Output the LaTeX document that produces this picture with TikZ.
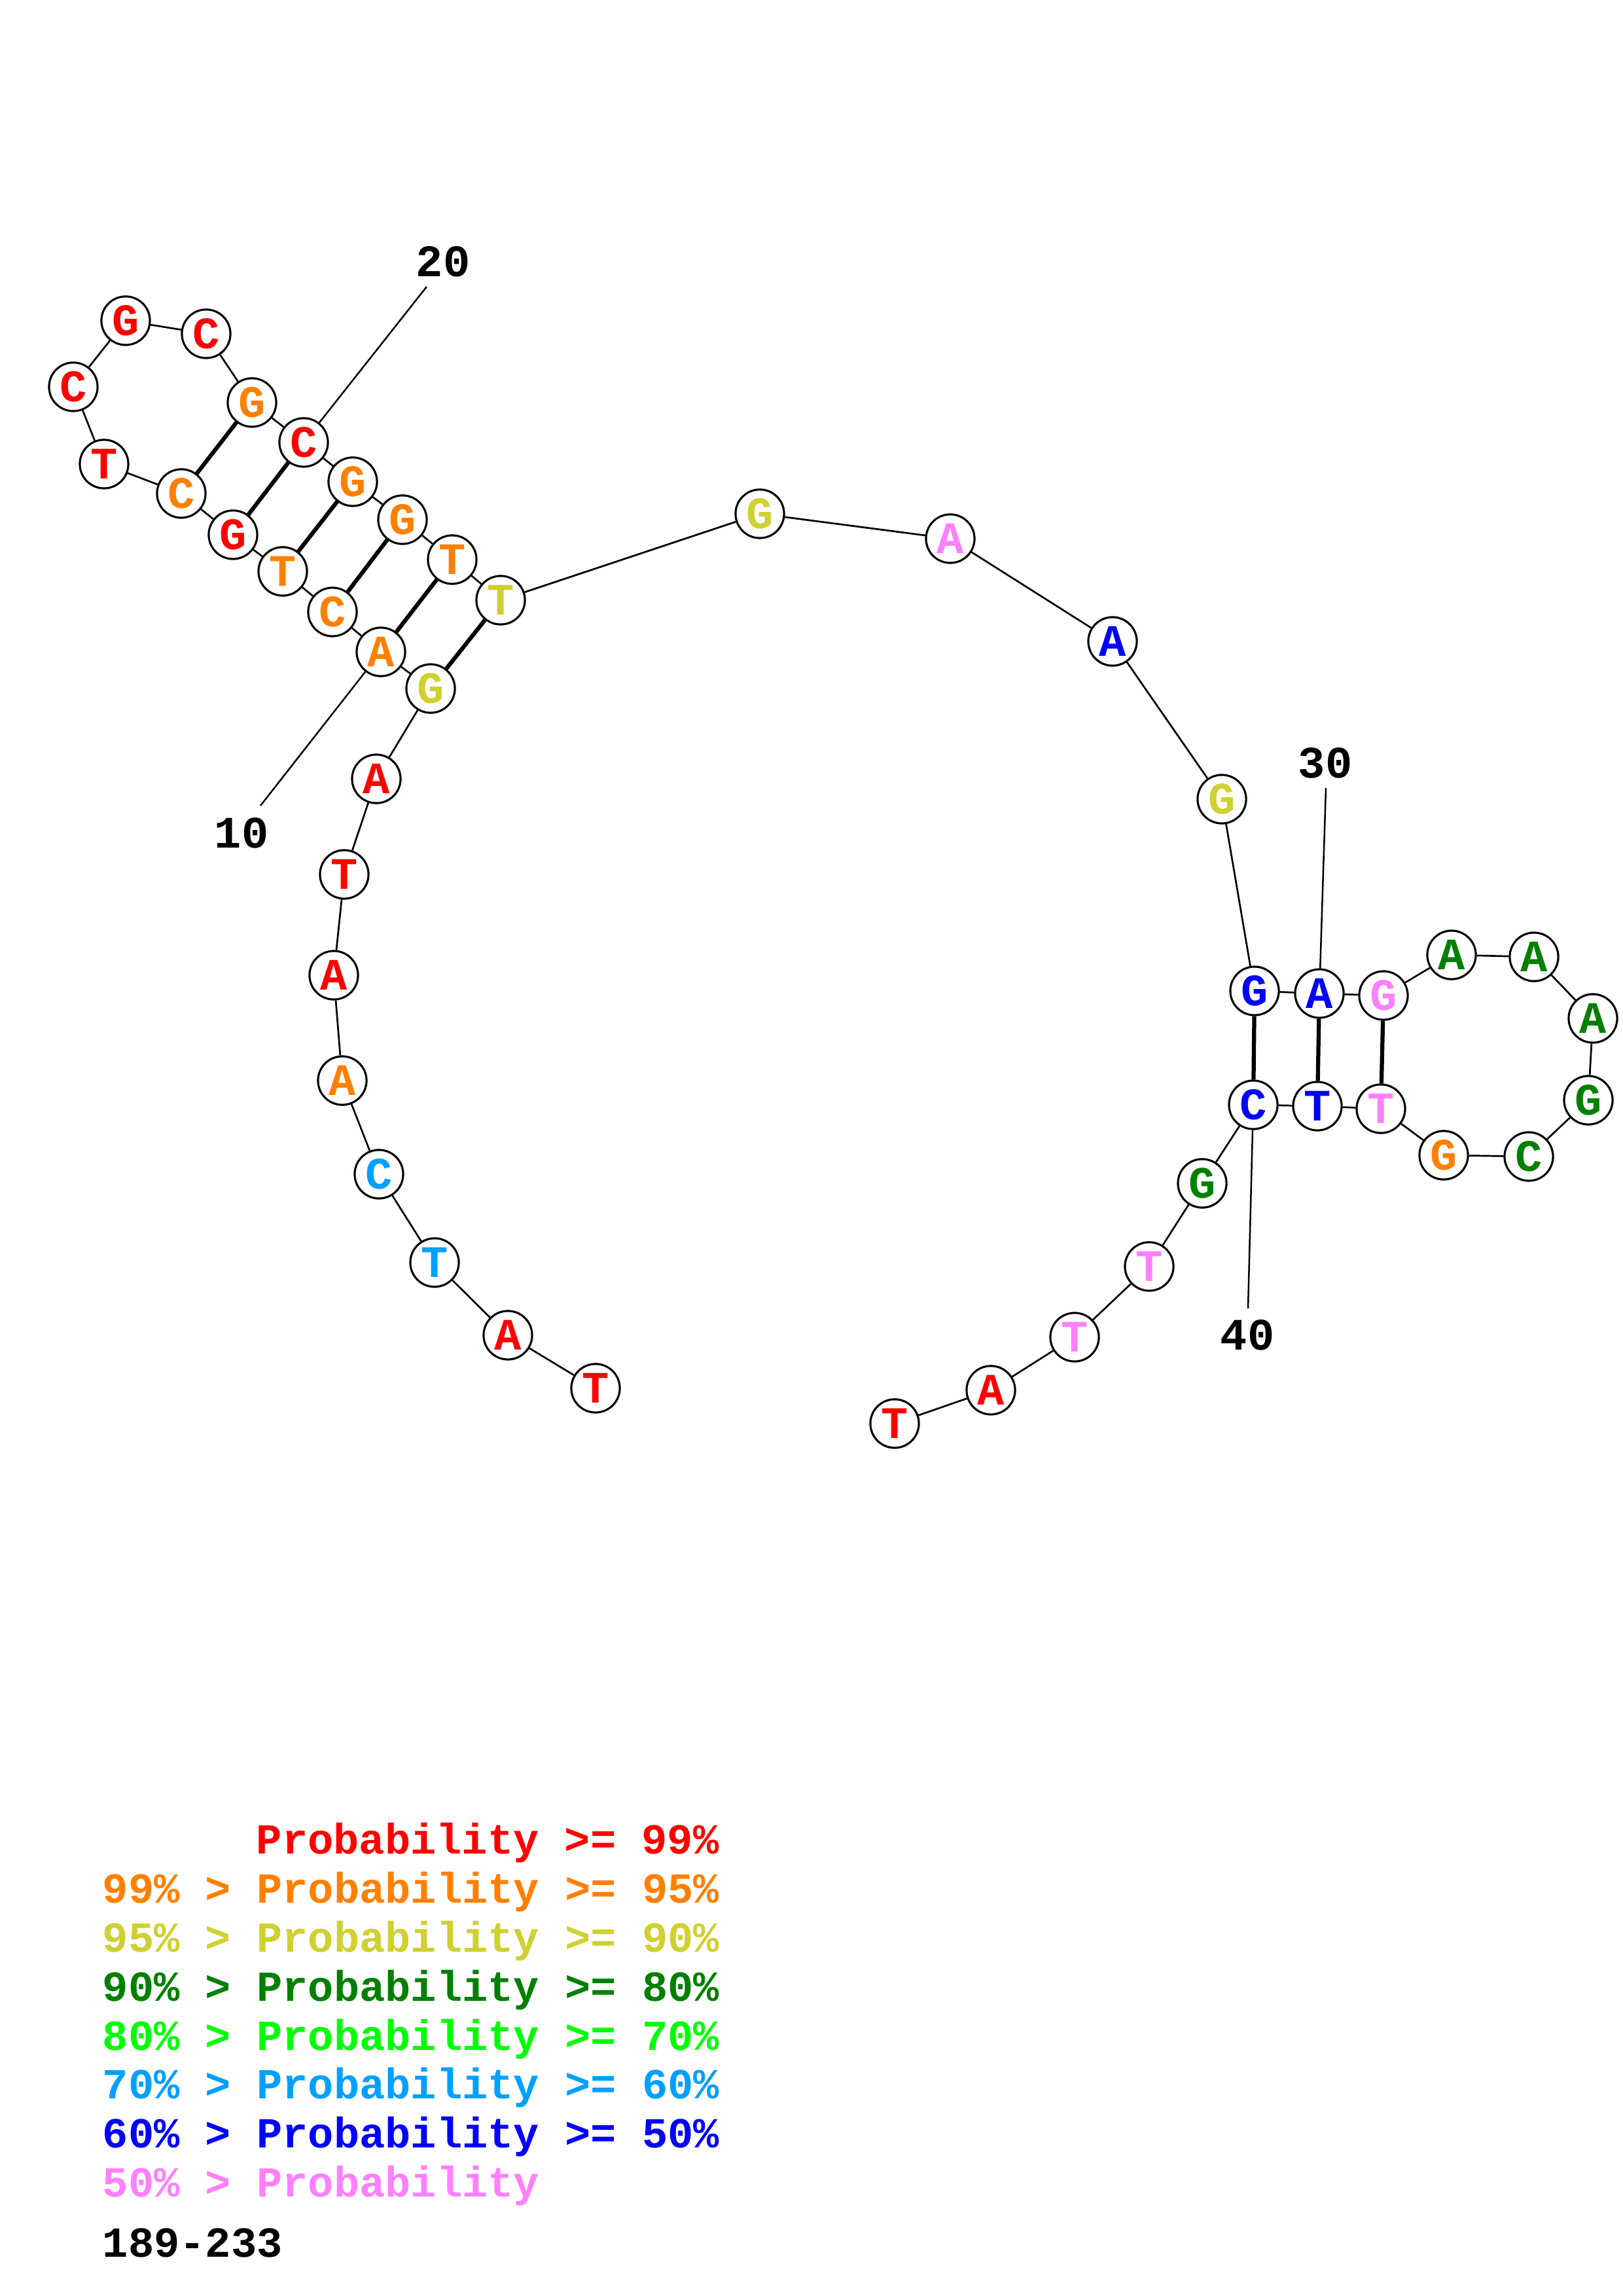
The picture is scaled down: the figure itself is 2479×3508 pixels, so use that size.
\documentclass[tikz,border=0pt]{standalone}
\usepackage{fontspec}
\newfontfamily\courfont{Liberation Mono}
\usetikzlibrary{backgrounds}

\definecolor{pr99}{RGB}{255,0,0}
\definecolor{pr95}{RGB}{255,128,0}
\definecolor{pr90}{RGB}{208,208,48}
\definecolor{pr80}{RGB}{0,128,0}
\definecolor{pr70}{RGB}{0,255,0}
\definecolor{pr60}{RGB}{0,160,255}
\definecolor{pr50}{RGB}{0,0,255}
\definecolor{prlow}{RGB}{255,128,255}

\begin{document}
\begin{tikzpicture}[
  x=0.24pt, y=-0.24pt,
  nuc/.style={circle, draw, line width=0.75pt, fill=white, inner sep=0pt, minimum size=17.8pt, font=\courfont\bfseries\fontsize{16.5}{16.5}\selectfont},
  chain/.style={line width=0.65pt},
  bond/.style={line width=1.5pt},
  tick/.style={line width=0.6pt},
  num/.style={font=\courfont\bfseries\fontsize{16.5}{16.5}\selectfont},
  legend/.style={anchor=base west, inner sep=0pt, font=\courfont\bfseries\fontsize{15.7}{15.7}\selectfont},
]
\useasboundingbox (0,0) rectangle (2479,3508);

% 5' tail
\node[nuc, text=pr99] (n1) at (910,2121) {T};
\node[nuc, text=pr99] (n2) at (776,2040) {A};
\node[nuc, text=pr60] (n3) at (664,1929) {T};
\node[nuc, text=pr60] (n4) at (579,1794) {C};
\node[nuc, text=pr95] (n5) at (523,1651) {A};
\node[nuc, text=pr99] (n6) at (510,1490) {A};
\node[nuc, text=pr99] (n7) at (526,1336) {T};
\node[nuc, text=pr99] (n8) at (575,1190) {A};

% first hairpin
\node[nuc, text=pr90] (n9) at (658,1052) {G};
\node[nuc, text=pr95] (n10) at (582,996) {A};
\node[nuc, text=pr95] (n11) at (508,935) {C};
\node[nuc, text=pr95] (n12) at (432,873) {T};
\node[nuc, text=pr99] (n13) at (356,817) {G};
\node[nuc, text=pr95] (n14) at (277,754) {C};
\node[nuc, text=pr99] (n15) at (159,709) {T};
\node[nuc, text=pr99] (n16) at (112,591) {C};
\node[nuc, text=pr99] (n17) at (192,490) {G};
\node[nuc, text=pr99] (n18) at (315,510) {C};
\node[nuc, text=pr95] (n19) at (385,615) {G};
\node[nuc, text=pr99] (n20) at (464,676) {C};
\node[nuc, text=pr95] (n21) at (539,736) {G};
\node[nuc, text=pr95] (n22) at (615,794) {G};
\node[nuc, text=pr95] (n23) at (691,855) {T};
\node[nuc, text=pr90] (n24) at (765,917) {T};

% loop
\node[nuc, text=pr90] (n25) at (1161,785) {G};
\node[nuc, text=prlow] (n26) at (1452,823) {A};
\node[nuc, text=pr50] (n27) at (1700,980) {A};
\node[nuc, text=pr90] (n28) at (1867,1221) {G};

% second hairpin
\node[nuc, text=pr50] (n29) at (1917,1514) {G};
\node[nuc, text=pr50] (n30) at (2016,1518) {A};
\node[nuc, text=prlow] (n31) at (2114,1521) {G};
\node[nuc, text=pr80] (n32) at (2218,1459) {A};
\node[nuc, text=pr80] (n33) at (2344,1462) {A};
\node[nuc, text=pr80] (n34) at (2434,1556) {A};
\node[nuc, text=pr80] (n35) at (2427,1681) {G};
\node[nuc, text=pr80] (n36) at (2336,1767) {C};
\node[nuc, text=pr95] (n37) at (2206,1765) {G};
\node[nuc, text=prlow] (n38) at (2110,1694) {T};
\node[nuc, text=pr50] (n39) at (2013,1690) {T};
\node[nuc, text=pr50] (n40) at (1915,1688) {C};

% 3' tail
\node[nuc, text=pr80] (n41) at (1837,1808) {G};
\node[nuc, text=prlow] (n42) at (1756,1935) {T};
\node[nuc, text=prlow] (n43) at (1642,2043) {T};
\node[nuc, text=pr99] (n44) at (1514,2124) {A};
\node[nuc, text=pr99] (n45) at (1367,2175) {T};

% backbone and pairs
\begin{scope}[on background layer]
\draw[chain] (n1) -- (n2) -- (n3) -- (n4) -- (n5) -- (n6) -- (n7) -- (n8) -- (n9)
  -- (n10) -- (n11) -- (n12) -- (n13) -- (n14) -- (n15) -- (n16) -- (n17) -- (n18)
  -- (n19) -- (n20) -- (n21) -- (n22) -- (n23) -- (n24) -- (n25) -- (n26) -- (n27)
  -- (n28) -- (n29) -- (n30) -- (n31) -- (n32) -- (n33) -- (n34) -- (n35) -- (n36)
  -- (n37) -- (n38) -- (n39) -- (n40) -- (n41) -- (n42) -- (n43) -- (n44) -- (n45);
\draw[bond] (n9) -- (n24);
\draw[bond] (n10) -- (n23);
\draw[bond] (n11) -- (n22);
\draw[bond] (n12) -- (n21);
\draw[bond] (n13) -- (n20);
\draw[bond] (n14) -- (n19);
\draw[bond] (n29) -- (n40);
\draw[bond] (n30) -- (n39);
\draw[bond] (n31) -- (n38);
\end{scope}

% numbering
\coordinate (t10) at (398,1231);
\coordinate (t20) at (652,438);
\coordinate (t30) at (2026,1204);
\coordinate (t40) at (1907,1999);
\draw[tick] (n10) -- (t10);
\draw[tick] (n20) -- (t20);
\draw[tick] (n30) -- (t30);
\draw[tick] (n40) -- (t40);
\node[num] (k10) at (369,1273) {10};
\node[num] (k20) at (677,400) {20};
\node[num] (k30) at (2025,1166) {30};
\node[num] (k40) at (1906,2040) {40};

% legend
\node[legend, text=pr99] (g1) at (391,2832) {Probability >= 99\%};
\node[legend, text=pr95] (g2) at (156,2907) {99\% > Probability >= 95\%};
\node[legend, text=pr90] (g3) at (156,2982) {95\% > Probability >= 90\%};
\node[legend, text=pr80] (g4) at (156,3057) {90\% > Probability >= 80\%};
\node[legend, text=pr70] (g5) at (156,3132) {80\% > Probability >= 70\%};
\node[legend, text=pr60] (g6) at (156,3206) {70\% > Probability >= 60\%};
\node[legend, text=pr50] (g7) at (156,3281) {60\% > Probability >= 50\%};
\node[legend, text=prlow] (g8) at (156,3356) {50\% > Probability};
\node[legend] (range) at (156,3448) {189-233};

\end{tikzpicture}
\end{document}
